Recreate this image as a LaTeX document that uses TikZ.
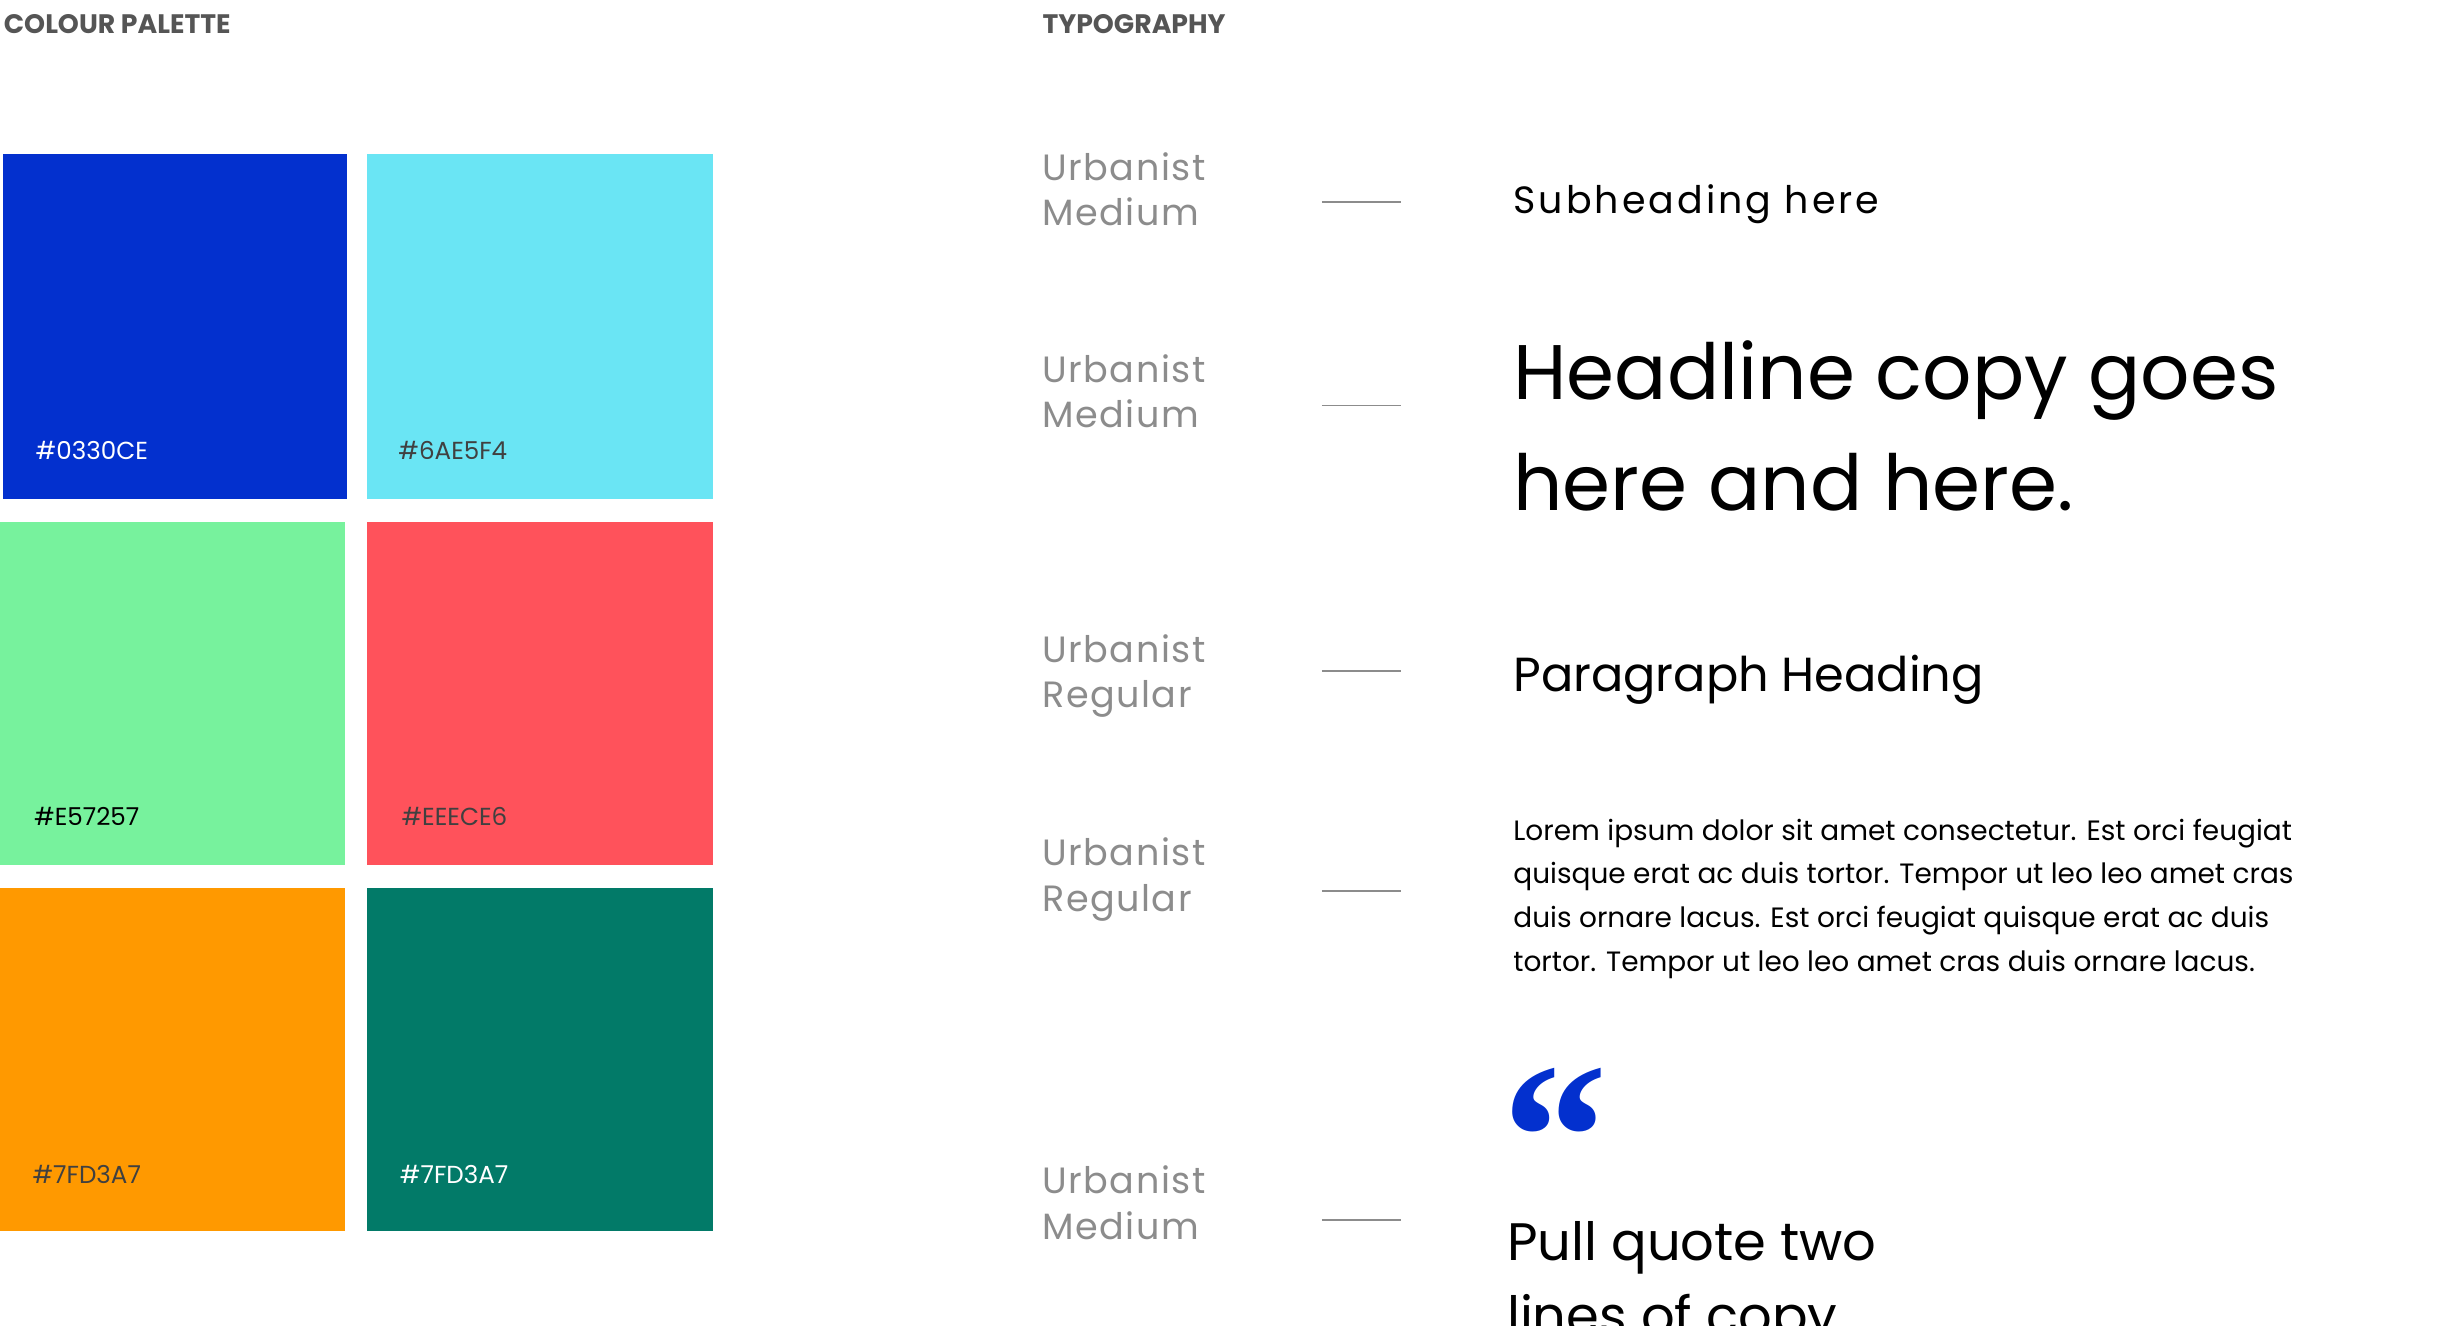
\documentclass[tikz,border=0pt]{standalone}
\usepackage{fontspec}
\setmainfont{Poppins}
\newfontfamily\quotefont{Liberation Serif}
\usepackage{xcolor}
\usetikzlibrary{positioning}
\definecolor{swblue}{HTML}{0330CE}
\definecolor{swcyan}{HTML}{6AE5F4}
\definecolor{swgreen}{HTML}{77F29D}
\definecolor{swred}{HTML}{FF525B}
\definecolor{sworange}{HTML}{FF9900}
\definecolor{swteal}{HTML}{027A68}
\definecolor{labelgrey}{HTML}{8C8C8C}
\definecolor{titlegrey}{HTML}{555555}
\tikzset{
	title/.style={anchor=base west, inner sep=0pt, text=titlegrey, font=\fontsize{7.6}{9}\selectfont\bfseries},
	swatch/.style={draw=none},
	hex/.style={anchor=base west, inner sep=0pt, font=\fontsize{7}{8}\selectfont},
	face/.style={anchor=base west, inner sep=0pt, text=labelgrey, align=left,
		font=\fontsize{10.4}{13}\selectfont\addfontfeatures{LetterSpace=4}},
	sample/.style={anchor=base west, inner sep=0pt, align=left},
	rule line/.style={draw=labelgrey, line width=0.5pt}
}
\begin{document}
\begin{tikzpicture}[x=0.015906cm, y=-0.015906cm]
	\useasboundingbox (0,0) rectangle (1534,833.6);

	% palette
	\node[title] (paltitle) at (2,21) {COLOUR PALETTE};
	\fill[swatch, swblue] (2,97) rectangle (218,314);
	\fill[swatch, swcyan] (231,97) rectangle (448,314);
	\fill[swatch, swgreen] (0,328) rectangle (217,544);
	\fill[swatch, swred] (231,328) rectangle (448,544);
	\fill[swatch, sworange] (0,558) rectangle (217,774);
	\fill[swatch, swteal] (231,558) rectangle (448,774);
	\node[hex, text=white] (hexa) at (22,289) {\#0330CE};
	\node[hex, text=black!75] (hexb) at (250,289) {\#6AE5F4};
	\node[hex, text=black] (hexc) at (21,519) {\#E57257};
	\node[hex, text=black!75] (hexd) at (252,519) {\#EEECE6};
	\node[hex, text=black!75] (hexe) at (20,744) {\#7FD3A7};
	\node[hex, text=white] (hexf) at (251,744) {\#7FD3A7};

	% typography
	\node[title] (typtitle) at (655,21) {TYPOGRAPHY};
	\foreach \nm/\y/\wt in {fa/142/Medium, fb/269/Medium, fc/445/Regular, fd/573/Regular, fe/779/Medium}
		\node[face] (\nm) at (655,\y) {Urbanist\\\wt};
	\foreach \nm/\y in {da/127, db/255, dc/422, dd/560, de/767} {
		\coordinate (\nm l) at (831,\y);
		\coordinate (\nm r) at (881,\y);
		\draw[rule line] (\nm l) -- (\nm r);
	}

	\node[sample, font=\fontsize{10.8}{13}\selectfont\addfontfeatures{LetterSpace=8}] (subhead) at (951,134) {Subheading here};
	\node[sample, font=\fontsize{22}{31.5}\selectfont] (headline) at (951,321) {Headline copy goes\\here and here.};
	\node[sample, font=\fontsize{13.6}{17}\selectfont] (parhead) at (951,435) {Paragraph Heading};
	\node[sample, font=\fontsize{7.95}{12.5}\selectfont] (lorem) at (951,611)
		{Lorem ipsum dolor sit amet consectetur. Est orci feugiat\\
		 quisque erat ac duis tortor. Tempor ut leo leo amet cras\\
		 duis ornare lacus. Est orci feugiat quisque erat ac duis\\
		 tortor. Tempor ut leo leo amet cras duis ornare lacus.};
	\node[sample, text=swblue, font=\fontsize{60}{60}\quotefont\bfseries] (quote) at (944,760) {“};
	\node[sample, font=\fontsize{15}{21}\selectfont] (pull) at (947,839) {Pull quote two\\lines of copy};
\end{tikzpicture}
\end{document}
